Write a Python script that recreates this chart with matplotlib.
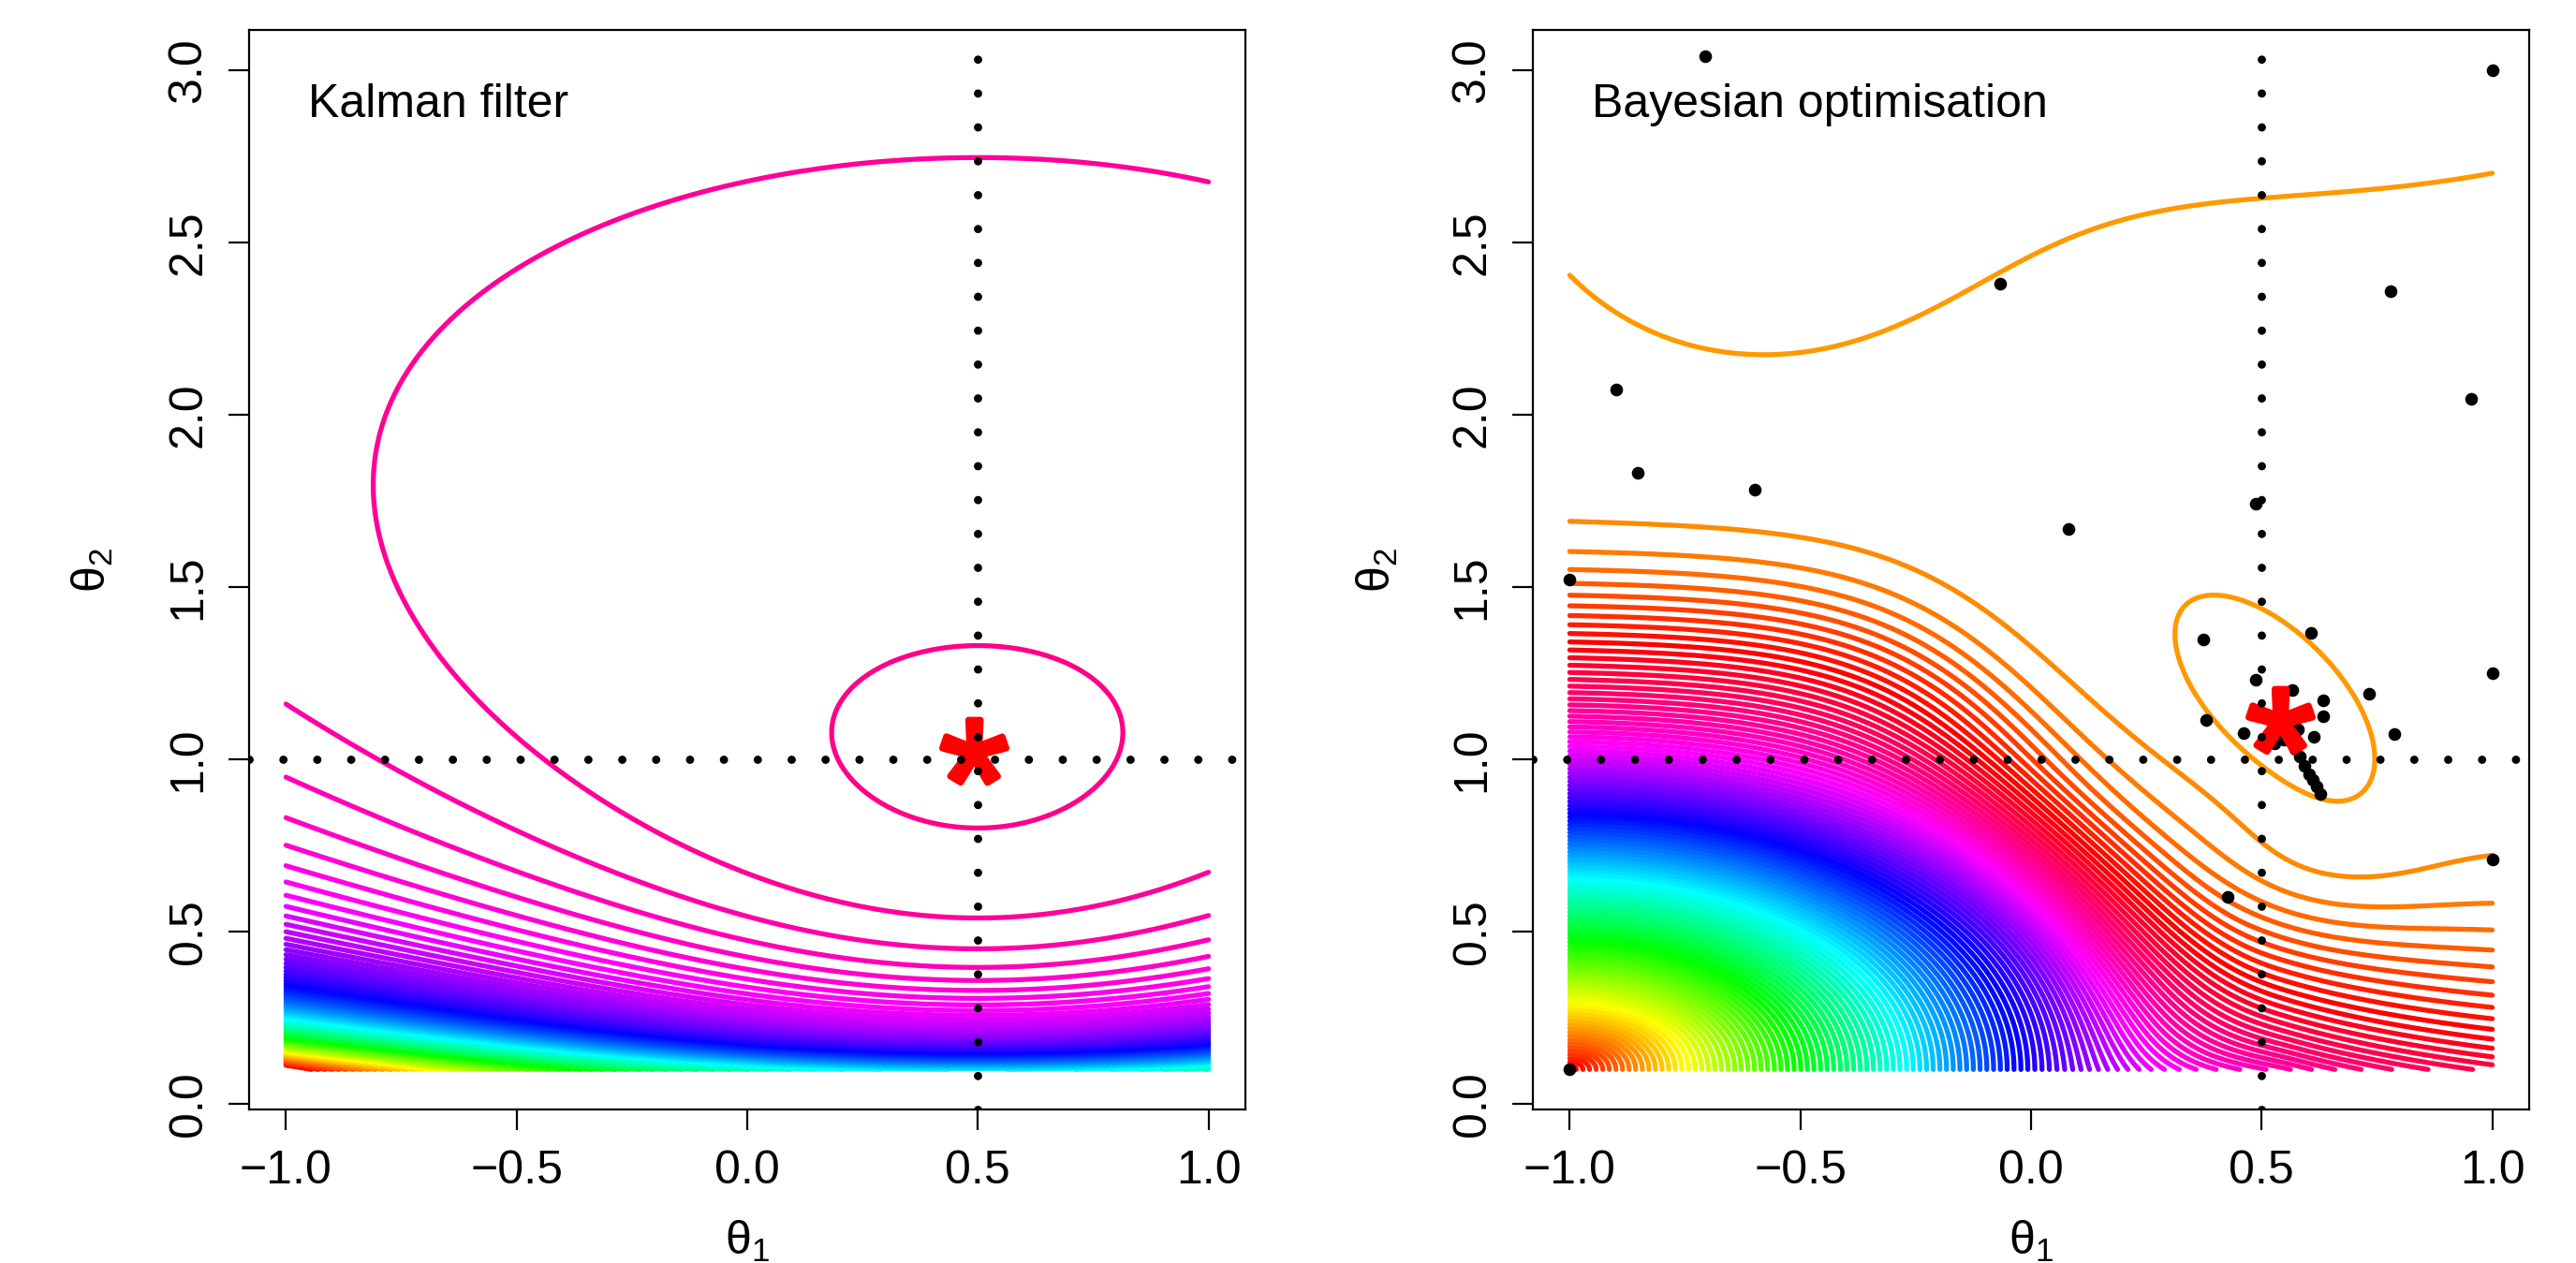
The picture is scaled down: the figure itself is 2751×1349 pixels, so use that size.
import numpy as np
import matplotlib
matplotlib.use('Agg')
import matplotlib.pyplot as plt
from matplotlib.colors import hsv_to_rgb
from matplotlib.textpath import TextPath
from matplotlib.font_manager import FontProperties
from matplotlib.path import Path

plt.rcParams['font.family'] = ['Liberation Sans', 'DejaVu Sans']
plt.rcParams['mathtext.fontset'] = 'custom'
plt.rcParams['mathtext.rm'] = 'Liberation Sans'
plt.rcParams['mathtext.it'] = 'Liberation Sans:italic'

W, H, DPI = 2751, 1349, 200

# axes / labels
x_ticks = [-1.0, -0.5, 0.0, 0.5, 1.0]
y_ticks = [0.0, 0.5, 1.0, 1.5, 2.0, 2.5, 3.0]
x_lim = (-1.08, 1.08)
y_lim = (-0.016, 3.116)
titles = ['Kalman filter', 'Bayesian optimisation']
true_theta1 = 0.5
true_theta2 = 1.0

# estimates (red stars)
kf_est = (0.492, 1.024)
bo_est = (0.539, 1.114)

# points evaluated by the Bayesian optimiser
bo_theta1 = [-0.707, 1.0, -0.066, 0.780, -0.899, 0.955, -0.852, -0.599, 0.487,
             0.082, -1.0, 0.373, 0.606, 1.0, 0.487, 0.567, 0.634, 0.733, 0.379,
             0.634, 0.460, 0.787, 0.614, 0.528, 0.548, 0.579, 0.572, 0.582,
             0.592, 0.602, 0.612, 0.619, 0.628, 0.427, 1.0, -1.0]
bo_theta2 = [3.04, 3.0, 2.381, 2.357, 2.072, 2.045, 1.830, 1.782, 1.742,
             1.668, 1.521, 1.347, 1.366, 1.249, 1.231, 1.202, 1.172, 1.191, 1.114,
             1.124, 1.076, 1.073, 1.066, 1.047, 1.057, 1.087, 1.030, 1.007,
             0.980, 0.957, 0.939, 0.921, 0.899, 0.600, 0.709, 0.101]

# grid on which both surfaces were evaluated
t1 = np.linspace(-1.0, 1.0, 401)
t2 = np.linspace(0.1, 3.0, 581)
T1, T2 = np.meshgrid(t1, t2)


def kf_loglik(a, s):
    # log-likelihood from the Kalman filter
    v = s ** 2 + 0.011
    damp = 1 - 0.6 * np.exp(-(s - 0.1) / 0.12)
    da = a - 0.5
    resid = 0.553 + (0.76 * da ** 2 + 0.02 * da ** 3) * damp
    return -0.5 * np.log(v) - resid / v - 0.067 * s


kf_levels = -0.688 - 0.58 * np.arange(91, -1, -1)


def gauss(a, s, a0, s0, sa, ss):
    return np.exp(-0.5 * (((a - a0) / sa) ** 2 + ((s - s0) / ss) ** 2))


def bo_surrogate(a, s):
    # surrogate mean, expressed in contour-level units
    X = a + 1.0
    Y = s - 0.1
    # near the corner: elliptic distance
    v_ell = np.sqrt((0.76 * X) ** 2 + Y ** 2)
    # further out: a step across theta1
    e = np.exp(-Y / 0.3)
    c = 1.0 - 0.28 * e
    w = 0.2 + 0.25 * e
    L = 1 / (1 + np.exp(-(X - c) / w))
    L0 = 1 / (1 + np.exp(c / w))
    T = (L - L0) / (1 - L0)
    v_step = Y * (1 - 0.39 * T) + 1.22 * T
    t = np.clip((v_ell - 0.75) / 0.45, 0, 1)
    beta = t * t * (3 - 2 * t)
    V = (1 - beta) * v_ell + beta * v_step
    G = 92 * V - 5.2 * np.logaddexp(0, (V - 1.0) / 0.1)
    base = 110.6 - np.logaddexp(0, -0.3 * (G - 110.6)) / 0.3
    # peak around the optimum (tilted)
    du = (a - 0.535) * 0.511 - (s - 1.16) * 0.860
    dv = (a - 0.535) * 0.860 + (s - 1.16) * 0.511
    peak = 1.4 * np.exp(-0.5 * ((du / 0.225) ** 2 + (dv / 0.102) ** 2))
    shoulder = 1.0 * gauss(a, s, 0.58, 0.6, 0.2, 0.16)
    top = 0.8 * gauss(a, s, -0.6, 2.9, 0.45, 0.6)
    top += 1.75 * gauss(a, s, 0.6, 3.6, 0.75, 0.55)
    return base + peak + shoulder + top


bo_levels = np.arange(1, 112)

# asterisk glyph as marker, centred on its ink box
tp = TextPath((0, 0), '*', size=10, prop=FontProperties(family='Liberation Sans'))
verts = tp.vertices.copy()
start = verts[0].copy()
for i, code in enumerate(tp.codes):
    if code == Path.MOVETO:
        start = verts[i].copy()
    elif code == Path.CLOSEPOLY:
        verts[i] = start
bb = Path(verts, tp.codes).get_extents()
star_path = Path(verts - [(bb.x0 + bb.x1) / 2, (bb.y0 + bb.y1) / 2], tp.codes)


def rainbow(n):
    h = (np.arange(n) % 100) / 100.0
    return hsv_to_rgb(np.column_stack([h, np.ones(n), np.ones(n)]))


fig = plt.figure(figsize=(W / DPI, H / DPI), dpi=DPI)
ax_l = fig.add_axes([266 / W, 1 - 1185 / H, 1064 / W, 1153 / H])
ax_r = fig.add_axes([1637 / W, 1 - 1185 / H, 1064 / W, 1153 / H])

panels = [(ax_l, kf_loglik(T1, T2), kf_levels, titles[0], kf_est, None),
          (ax_r, bo_surrogate(T1, T2), bo_levels, titles[1], bo_est, (bo_theta1, bo_theta2))]

for ax, Z, levels, title, est, pts in panels:
    cs = ax.contour(T1, T2, Z, levels=levels, colors=rainbow(len(levels)),
                    linewidths=1.9, zorder=1)
    cs.set_capstyle('round')
    cs.set_joinstyle('round')
    if pts is not None:
        ax.plot(pts[0], pts[1], 'o', color='k', ms=4.9, mew=0, zorder=3)
    ax.plot([est[0]], [est[1]], ls='none', marker=star_path, ms=24.5,
            color='red', mec='red', mew=2.5, zorder=4)
    ax.axvline(true_theta1, color='k', lw=3.2, ls=(0, (0.001, 4.07)),
               dash_capstyle='round', zorder=5)
    ax.axhline(true_theta2, color='k', lw=3.2, ls=(0, (0.001, 4.07)),
               dash_capstyle='round', zorder=5)
    ax.text(-0.953, 2.864, title, fontsize=18, ha='left', va='baseline')
    ax.set_xlim(x_lim)
    ax.set_ylim(y_lim)
    ax.set_xticks(x_ticks)
    ax.set_xticklabels([f'{v:.1f}'.replace('-', '\u2212') for v in x_ticks])
    ax.set_yticks(y_ticks)
    ax.set_yticklabels([f'{v:.1f}' for v in y_ticks], rotation=90, va='center')
    ax.tick_params(direction='out', length=7.9, width=0.8, labelsize=18)
    ax.tick_params(axis='x', pad=7.6)
    ax.tick_params(axis='y', pad=7)
    for sp in ax.spines.values():
        sp.set_linewidth(0.8)

for cx in (798, 2169):
    fig.text(cx / W, 1 - 1326 / H, r'$\mathrm{\theta}_1$', fontsize=18,
             ha='center', va='center')
for cx in (98.5, 1470.5):
    fig.text(cx / W, 1 - 608.5 / H, r'$\mathrm{\theta}_2$', fontsize=18,
             ha='center', va='center', rotation=90)

fig.savefig('out.png', dpi=DPI)
